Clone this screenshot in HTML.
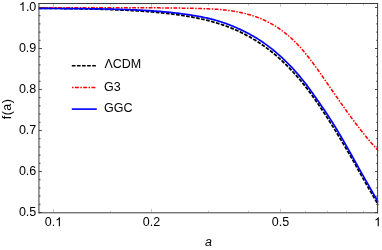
<!DOCTYPE html>
<html><head><meta charset="utf-8"><title>f(a)</title>
<style>
html,body{margin:0;padding:0;background:#fff;}
body{width:382px;height:250px;overflow:hidden;}
svg{display:block;will-change:transform;transform:translateZ(0);}
text{font-family:"Liberation Sans",sans-serif;font-size:12.5px;fill:#000;}
</style></head><body>
<svg width="382" height="250" viewBox="0 0 382 250">
<rect x="0" y="0" width="382" height="250" fill="#fff"/>
<clipPath id="c"><rect x="38.5" y="3" width="339.9" height="210"/></clipPath>
<g clip-path="url(#c)" fill="none" stroke-linejoin="round">
<path d="M38.50,8.26 L39.50,8.27 L40.50,8.28 L41.50,8.29 L42.50,8.29 L43.50,8.30 L44.50,8.31 L45.50,8.32 L46.50,8.33 L47.50,8.34 L48.50,8.35 L49.50,8.36 L50.50,8.37 L51.50,8.38 L52.50,8.39 L53.50,8.40 L54.50,8.41 L55.50,8.42 L56.50,8.43 L57.50,8.44 L58.50,8.45 L59.50,8.47 L60.50,8.48 L61.50,8.49 L62.50,8.50 L63.50,8.52 L64.50,8.53 L65.50,8.54 L66.50,8.56 L67.50,8.57 L68.50,8.59 L69.50,8.60 L70.50,8.62 L71.50,8.63 L72.50,8.65 L73.50,8.66 L74.50,8.68 L75.50,8.70 L76.50,8.71 L77.50,8.73 L78.50,8.75 L79.50,8.77 L80.50,8.79 L81.50,8.80 L82.50,8.82 L83.50,8.84 L84.50,8.86 L85.50,8.88 L86.50,8.91 L87.50,8.93 L88.50,8.95 L89.50,8.97 L90.50,9.00 L91.50,9.02 L92.50,9.04 L93.50,9.07 L94.50,9.09 L95.50,9.12 L96.50,9.14 L97.50,9.17 L98.50,9.20 L99.50,9.23 L100.50,9.25 L101.50,9.28 L102.50,9.31 L103.50,9.34 L104.50,9.37 L105.50,9.41 L106.50,9.44 L107.50,9.47 L108.50,9.50 L109.50,9.54 L110.50,9.57 L111.50,9.61 L112.50,9.65 L113.50,9.68 L114.50,9.72 L115.50,9.76 L116.50,9.80 L117.50,9.84 L118.50,9.88 L119.50,9.93 L120.50,9.97 L121.50,10.01 L122.50,10.06 L123.50,10.10 L124.50,10.15 L125.50,10.20 L126.50,10.25 L127.50,10.30 L128.50,10.35 L129.50,10.40 L130.50,10.46 L131.50,10.51 L132.50,10.57 L133.50,10.62 L134.50,10.68 L135.50,10.74 L136.50,10.80 L137.50,10.86 L138.50,10.93 L139.50,10.99 L140.50,11.06 L141.50,11.12 L142.50,11.19 L143.50,11.26 L144.50,11.33 L145.50,11.41 L146.50,11.48 L147.50,11.56 L148.50,11.63 L149.50,11.71 L150.50,11.80 L151.50,11.88 L152.50,11.96 L153.50,12.05 L154.50,12.14 L155.50,12.23 L156.50,12.32 L157.50,12.41 L158.50,12.51 L159.50,12.61 L160.50,12.70 L161.50,12.81 L162.50,12.91 L163.50,13.02 L164.50,13.12 L165.50,13.24 L166.50,13.35 L167.50,13.46 L168.50,13.58 L169.50,13.70 L170.50,13.82 L171.50,13.95 L172.50,14.08 L173.50,14.21 L174.50,14.34 L175.50,14.47 L176.50,14.61 L177.50,14.75 L178.50,14.90 L179.50,15.04 L180.50,15.19 L181.50,15.34 L182.50,15.49 L183.50,15.64 L184.50,15.80 L185.50,15.95 L186.50,16.12 L187.50,16.28 L188.50,16.45 L189.50,16.63 L190.50,16.80 L191.50,16.98 L192.50,17.17 L193.50,17.36 L194.50,17.55 L195.50,17.74 L196.50,17.94 L197.50,18.15 L198.50,18.36 L199.50,18.57 L200.50,18.79 L201.50,19.01 L202.50,19.24 L203.50,19.47 L204.50,19.70 L205.50,19.94 L206.50,20.19 L207.50,20.44 L208.50,20.69 L209.50,20.95 L210.50,21.22 L211.50,21.49 L212.50,21.77 L213.50,22.05 L214.50,22.33 L215.50,22.63 L216.50,22.93 L217.50,23.23 L218.50,23.54 L219.50,23.86 L220.50,24.18 L221.50,24.51 L222.50,24.85 L223.50,25.19 L224.50,25.54 L225.50,25.89 L226.50,26.26 L227.50,26.62 L228.50,27.00 L229.50,27.38 L230.50,27.78 L231.50,28.17 L232.50,28.58 L233.50,28.99 L234.50,29.41 L235.50,29.84 L236.50,30.28 L237.50,30.72 L238.50,31.18 L239.50,31.64 L240.50,32.11 L241.50,32.60 L242.50,33.09 L243.50,33.59 L244.50,34.11 L245.50,34.63 L246.50,35.16 L247.50,35.69 L248.50,36.24 L249.50,36.80 L250.50,37.37 L251.50,37.95 L252.50,38.53 L253.50,39.13 L254.50,39.74 L255.50,40.35 L256.50,40.98 L257.50,41.62 L258.50,42.27 L259.50,42.93 L260.50,43.60 L261.50,44.28 L262.50,44.97 L263.50,45.68 L264.50,46.39 L265.50,47.12 L266.50,47.86 L267.50,48.61 L268.50,49.37 L269.50,50.14 L270.50,50.93 L271.50,51.72 L272.50,52.53 L273.50,53.36 L274.50,54.19 L275.50,55.04 L276.50,55.90 L277.50,56.77 L278.50,57.65 L279.50,58.55 L280.50,59.46 L281.50,60.38 L282.50,61.32 L283.50,62.26 L284.50,63.23 L285.50,64.20 L286.50,65.19 L287.50,66.19 L288.50,67.21 L289.50,68.23 L290.50,69.28 L291.50,70.33 L292.50,71.40 L293.50,72.48 L294.50,73.58 L295.50,74.69 L296.50,75.81 L297.50,76.95 L298.50,78.10 L299.50,79.26 L300.50,80.44 L301.50,81.63 L302.50,82.85 L303.50,84.08 L304.50,85.34 L305.50,86.61 L306.50,87.90 L307.50,89.20 L308.50,90.52 L309.50,91.86 L310.50,93.22 L311.50,94.59 L312.50,95.97 L313.50,97.37 L314.50,98.78 L315.50,100.20 L316.50,101.64 L317.50,103.08 L318.50,104.54 L319.50,106.00 L320.50,107.48 L321.50,108.96 L322.50,110.46 L323.50,111.97 L324.50,113.50 L325.50,115.03 L326.50,116.57 L327.50,118.13 L328.50,119.69 L329.50,121.27 L330.50,122.85 L331.50,124.45 L332.50,126.05 L333.50,127.66 L334.50,129.27 L335.50,130.90 L336.50,132.53 L337.50,134.17 L338.50,135.81 L339.50,137.46 L340.50,139.12 L341.50,140.79 L342.50,142.46 L343.50,144.14 L344.50,145.83 L345.50,147.53 L346.50,149.23 L347.50,150.94 L348.50,152.66 L349.50,154.38 L350.50,156.12 L351.50,157.86 L352.50,159.62 L353.50,161.38 L354.50,163.15 L355.50,164.93 L356.50,166.71 L357.50,168.49 L358.50,170.28 L359.50,172.07 L360.50,173.85 L361.50,175.63 L362.50,177.41 L363.50,179.18 L364.50,180.94 L365.50,182.70 L366.50,184.45 L367.50,186.20 L368.50,187.94 L369.50,189.69 L370.50,191.42 L371.50,193.16 L372.50,194.89 L373.50,196.62 L374.50,198.34 L375.50,200.05 L376.50,201.76 L377.50,203.46 L378.40,204.99" stroke="#000" stroke-width="1.75" stroke-dasharray="3.7 1.4"/>
<path d="M38.50,7.75 L39.50,7.75 L40.50,7.75 L41.50,7.75 L42.50,7.75 L43.50,7.75 L44.50,7.75 L45.50,7.75 L46.50,7.75 L47.50,7.75 L48.50,7.75 L49.50,7.75 L50.50,7.75 L51.50,7.75 L52.50,7.75 L53.50,7.75 L54.50,7.75 L55.50,7.75 L56.50,7.75 L57.50,7.75 L58.50,7.75 L59.50,7.75 L60.50,7.75 L61.50,7.75 L62.50,7.75 L63.50,7.75 L64.50,7.75 L65.50,7.75 L66.50,7.75 L67.50,7.75 L68.50,7.75 L69.50,7.75 L70.50,7.75 L71.50,7.75 L72.50,7.75 L73.50,7.75 L74.50,7.75 L75.50,7.75 L76.50,7.75 L77.50,7.75 L78.50,7.75 L79.50,7.75 L80.50,7.75 L81.50,7.75 L82.50,7.75 L83.50,7.75 L84.50,7.75 L85.50,7.75 L86.50,7.75 L87.50,7.75 L88.50,7.75 L89.50,7.75 L90.50,7.75 L91.50,7.75 L92.50,7.75 L93.50,7.75 L94.50,7.75 L95.50,7.75 L96.50,7.75 L97.50,7.75 L98.50,7.75 L99.50,7.75 L100.50,7.75 L101.50,7.75 L102.50,7.75 L103.50,7.75 L104.50,7.75 L105.50,7.75 L106.50,7.75 L107.50,7.75 L108.50,7.75 L109.50,7.75 L110.50,7.76 L111.50,7.76 L112.50,7.76 L113.50,7.76 L114.50,7.76 L115.50,7.76 L116.50,7.76 L117.50,7.76 L118.50,7.76 L119.50,7.76 L120.50,7.76 L121.50,7.76 L122.50,7.77 L123.50,7.77 L124.50,7.77 L125.50,7.77 L126.50,7.77 L127.50,7.77 L128.50,7.77 L129.50,7.77 L130.50,7.78 L131.50,7.78 L132.50,7.78 L133.50,7.78 L134.50,7.78 L135.50,7.79 L136.50,7.79 L137.50,7.79 L138.50,7.79 L139.50,7.79 L140.50,7.80 L141.50,7.80 L142.50,7.80 L143.50,7.80 L144.50,7.81 L145.50,7.81 L146.50,7.81 L147.50,7.82 L148.50,7.82 L149.50,7.82 L150.50,7.83 L151.50,7.83 L152.50,7.83 L153.50,7.84 L154.50,7.84 L155.50,7.85 L156.50,7.85 L157.50,7.86 L158.50,7.86 L159.50,7.87 L160.50,7.88 L161.50,7.88 L162.50,7.89 L163.50,7.90 L164.50,7.91 L165.50,7.91 L166.50,7.92 L167.50,7.93 L168.50,7.94 L169.50,7.95 L170.50,7.96 L171.50,7.97 L172.50,7.99 L173.50,8.00 L174.50,8.01 L175.50,8.02 L176.50,8.04 L177.50,8.05 L178.50,8.07 L179.50,8.08 L180.50,8.10 L181.50,8.11 L182.50,8.13 L183.50,8.15 L184.50,8.17 L185.50,8.19 L186.50,8.21 L187.50,8.23 L188.50,8.25 L189.50,8.27 L190.50,8.29 L191.50,8.31 L192.50,8.34 L193.50,8.36 L194.50,8.39 L195.50,8.42 L196.50,8.44 L197.50,8.47 L198.50,8.50 L199.50,8.53 L200.50,8.56 L201.50,8.59 L202.50,8.62 L203.50,8.66 L204.50,8.69 L205.50,8.73 L206.50,8.77 L207.50,8.81 L208.50,8.85 L209.50,8.90 L210.50,8.95 L211.50,9.00 L212.50,9.05 L213.50,9.11 L214.50,9.17 L215.50,9.23 L216.50,9.30 L217.50,9.37 L218.50,9.45 L219.50,9.53 L220.50,9.61 L221.50,9.70 L222.50,9.79 L223.50,9.89 L224.50,9.99 L225.50,10.10 L226.50,10.21 L227.50,10.33 L228.50,10.46 L229.50,10.59 L230.50,10.72 L231.50,10.87 L232.50,11.02 L233.50,11.17 L234.50,11.34 L235.50,11.51 L236.50,11.68 L237.50,11.87 L238.50,12.06 L239.50,12.26 L240.50,12.47 L241.50,12.68 L242.50,12.91 L243.50,13.14 L244.50,13.38 L245.50,13.63 L246.50,13.89 L247.50,14.16 L248.50,14.44 L249.50,14.72 L250.50,15.02 L251.50,15.33 L252.50,15.64 L253.50,15.97 L254.50,16.31 L255.50,16.66 L256.50,17.01 L257.50,17.38 L258.50,17.77 L259.50,18.16 L260.50,18.56 L261.50,18.98 L262.50,19.41 L263.50,19.85 L264.50,20.30 L265.50,20.77 L266.50,21.25 L267.50,21.74 L268.50,22.25 L269.50,22.77 L270.50,23.31 L271.50,23.86 L272.50,24.43 L273.50,25.01 L274.50,25.61 L275.50,26.22 L276.50,26.85 L277.50,27.50 L278.50,28.16 L279.50,28.84 L280.50,29.54 L281.50,30.26 L282.50,30.99 L283.50,31.75 L284.50,32.52 L285.50,33.31 L286.50,34.11 L287.50,34.94 L288.50,35.79 L289.50,36.66 L290.50,37.55 L291.50,38.46 L292.50,39.38 L293.50,40.34 L294.50,41.31 L295.50,42.30 L296.50,43.32 L297.50,44.35 L298.50,45.41 L299.50,46.50 L300.50,47.60 L301.50,48.73 L302.50,49.89 L303.50,51.06 L304.50,52.26 L305.50,53.48 L306.50,54.72 L307.50,55.98 L308.50,57.26 L309.50,58.55 L310.50,59.86 L311.50,61.19 L312.50,62.53 L313.50,63.88 L314.50,65.25 L315.50,66.62 L316.50,68.01 L317.50,69.41 L318.50,70.81 L319.50,72.23 L320.50,73.64 L321.50,75.07 L322.50,76.50 L323.50,77.93 L324.50,79.37 L325.50,80.81 L326.50,82.26 L327.50,83.70 L328.50,85.15 L329.50,86.60 L330.50,88.05 L331.50,89.50 L332.50,90.95 L333.50,92.39 L334.50,93.84 L335.50,95.29 L336.50,96.73 L337.50,98.17 L338.50,99.61 L339.50,101.04 L340.50,102.47 L341.50,103.89 L342.50,105.31 L343.50,106.73 L344.50,108.14 L345.50,109.54 L346.50,110.94 L347.50,112.33 L348.50,113.71 L349.50,115.09 L350.50,116.46 L351.50,117.83 L352.50,119.18 L353.50,120.53 L354.50,121.87 L355.50,123.20 L356.50,124.53 L357.50,125.84 L358.50,127.15 L359.50,128.44 L360.50,129.73 L361.50,131.00 L362.50,132.27 L363.50,133.52 L364.50,134.77 L365.50,136.00 L366.50,137.22 L367.50,138.43 L368.50,139.62 L369.50,140.81 L370.50,141.98 L371.50,143.14 L372.50,144.28 L373.50,145.42 L374.50,146.54 L375.50,147.64 L376.50,148.73 L377.50,149.80 L378.40,150.76" stroke="#f00" stroke-width="1.5" stroke-dasharray="1.5 1.4 3.9 1.45"/>
<path d="M38.50,8.41 L39.50,8.42 L40.50,8.42 L41.50,8.43 L42.50,8.43 L43.50,8.44 L44.50,8.44 L45.50,8.45 L46.50,8.45 L47.50,8.46 L48.50,8.46 L49.50,8.47 L50.50,8.47 L51.50,8.48 L52.50,8.48 L53.50,8.49 L54.50,8.49 L55.50,8.50 L56.50,8.50 L57.50,8.51 L58.50,8.51 L59.50,8.52 L60.50,8.52 L61.50,8.53 L62.50,8.54 L63.50,8.54 L64.50,8.55 L65.50,8.55 L66.50,8.56 L67.50,8.57 L68.50,8.57 L69.50,8.58 L70.50,8.59 L71.50,8.60 L72.50,8.60 L73.50,8.61 L74.50,8.62 L75.50,8.63 L76.50,8.64 L77.50,8.64 L78.50,8.65 L79.50,8.66 L80.50,8.67 L81.50,8.68 L82.50,8.69 L83.50,8.70 L84.50,8.72 L85.50,8.73 L86.50,8.74 L87.50,8.75 L88.50,8.76 L89.50,8.78 L90.50,8.79 L91.50,8.80 L92.50,8.82 L93.50,8.83 L94.50,8.85 L95.50,8.86 L96.50,8.88 L97.50,8.90 L98.50,8.91 L99.50,8.93 L100.50,8.95 L101.50,8.97 L102.50,8.99 L103.50,9.01 L104.50,9.02 L105.50,9.04 L106.50,9.06 L107.50,9.08 L108.50,9.10 L109.50,9.13 L110.50,9.15 L111.50,9.17 L112.50,9.19 L113.50,9.21 L114.50,9.24 L115.50,9.26 L116.50,9.29 L117.50,9.31 L118.50,9.34 L119.50,9.36 L120.50,9.39 L121.50,9.42 L122.50,9.45 L123.50,9.48 L124.50,9.51 L125.50,9.54 L126.50,9.57 L127.50,9.61 L128.50,9.64 L129.50,9.68 L130.50,9.71 L131.50,9.75 L132.50,9.79 L133.50,9.83 L134.50,9.87 L135.50,9.91 L136.50,9.96 L137.50,10.00 L138.50,10.05 L139.50,10.10 L140.50,10.15 L141.50,10.20 L142.50,10.25 L143.50,10.30 L144.50,10.36 L145.50,10.42 L146.50,10.48 L147.50,10.54 L148.50,10.60 L149.50,10.66 L150.50,10.72 L151.50,10.79 L152.50,10.86 L153.50,10.93 L154.50,11.00 L155.50,11.07 L156.50,11.15 L157.50,11.23 L158.50,11.30 L159.50,11.39 L160.50,11.47 L161.50,11.55 L162.50,11.64 L163.50,11.73 L164.50,11.82 L165.50,11.91 L166.50,12.01 L167.50,12.10 L168.50,12.20 L169.50,12.31 L170.50,12.41 L171.50,12.52 L172.50,12.63 L173.50,12.74 L174.50,12.85 L175.50,12.97 L176.50,13.09 L177.50,13.21 L178.50,13.33 L179.50,13.46 L180.50,13.59 L181.50,13.72 L182.50,13.85 L183.50,13.98 L184.50,14.11 L185.50,14.25 L186.50,14.39 L187.50,14.54 L188.50,14.69 L189.50,14.84 L190.50,14.99 L191.50,15.15 L192.50,15.31 L193.50,15.47 L194.50,15.64 L195.50,15.80 L196.50,15.98 L197.50,16.15 L198.50,16.33 L199.50,16.51 L200.50,16.70 L201.50,16.89 L202.50,17.09 L203.50,17.30 L204.50,17.50 L205.50,17.72 L206.50,17.94 L207.50,18.17 L208.50,18.40 L209.50,18.64 L210.50,18.89 L211.50,19.14 L212.50,19.39 L213.50,19.65 L214.50,19.92 L215.50,20.20 L216.50,20.48 L217.50,20.77 L218.50,21.06 L219.50,21.37 L220.50,21.69 L221.50,22.01 L222.50,22.35 L223.50,22.69 L224.50,23.04 L225.50,23.39 L226.50,23.76 L227.50,24.12 L228.50,24.50 L229.50,24.88 L230.50,25.28 L231.50,25.67 L232.50,26.08 L233.50,26.49 L234.50,26.91 L235.50,27.34 L236.50,27.78 L237.50,28.22 L238.50,28.68 L239.50,29.14 L240.50,29.61 L241.50,30.09 L242.50,30.57 L243.50,31.06 L244.50,31.55 L245.50,32.04 L246.50,32.54 L247.50,33.05 L248.50,33.57 L249.50,34.09 L250.50,34.63 L251.50,35.18 L252.50,35.73 L253.50,36.30 L254.50,36.88 L255.50,37.48 L256.50,38.09 L257.50,38.71 L258.50,39.35 L259.50,40.00 L260.50,40.66 L261.50,41.33 L262.50,42.01 L263.50,42.70 L264.50,43.40 L265.50,44.12 L266.50,44.85 L267.50,45.58 L268.50,46.34 L269.50,47.10 L270.50,47.87 L271.50,48.66 L272.50,49.46 L273.50,50.27 L274.50,51.10 L275.50,51.93 L276.50,52.78 L277.50,53.65 L278.50,54.52 L279.50,55.41 L280.50,56.32 L281.50,57.23 L282.50,58.16 L283.50,59.10 L284.50,60.06 L285.50,61.03 L286.50,62.01 L287.50,63.01 L288.50,64.02 L289.50,65.05 L290.50,66.08 L291.50,67.14 L292.50,68.20 L293.50,69.28 L294.50,70.38 L295.50,71.49 L296.50,72.61 L297.50,73.75 L298.50,74.91 L299.50,76.08 L300.50,77.27 L301.50,78.49 L302.50,79.72 L303.50,80.98 L304.50,82.25 L305.50,83.55 L306.50,84.86 L307.50,86.19 L308.50,87.53 L309.50,88.89 L310.50,90.27 L311.50,91.65 L312.50,93.05 L313.50,94.46 L314.50,95.88 L315.50,97.30 L316.50,98.73 L317.50,100.16 L318.50,101.60 L319.50,103.03 L320.50,104.46 L321.50,105.91 L322.50,107.36 L323.50,108.82 L324.50,110.30 L325.50,111.78 L326.50,113.28 L327.50,114.79 L328.50,116.31 L329.50,117.85 L330.50,119.40 L331.50,120.97 L332.50,122.56 L333.50,124.16 L334.50,125.78 L335.50,127.41 L336.50,129.06 L337.50,130.72 L338.50,132.39 L339.50,134.07 L340.50,135.77 L341.50,137.47 L342.50,139.19 L343.50,140.91 L344.50,142.64 L345.50,144.39 L346.50,146.14 L347.50,147.89 L348.50,149.66 L349.50,151.43 L350.50,153.21 L351.50,154.99 L352.50,156.78 L353.50,158.57 L354.50,160.37 L355.50,162.17 L356.50,163.97 L357.50,165.76 L358.50,167.56 L359.50,169.34 L360.50,171.12 L361.50,172.89 L362.50,174.66 L363.50,176.42 L364.50,178.18 L365.50,179.93 L366.50,181.68 L367.50,183.43 L368.50,185.18 L369.50,186.92 L370.50,188.65 L371.50,190.39 L372.50,192.12 L373.50,193.84 L374.50,195.56 L375.50,197.28 L376.50,198.99 L377.50,200.70 L378.40,202.23" stroke="#00f" stroke-width="1.7"/>
</g>
<line x1="53.50" y1="212.30" x2="53.50" y2="208.80" stroke="#c6c6c6" stroke-width="1"/>
<line x1="53.50" y1="4.00" x2="53.50" y2="6.80" stroke="#c6c6c6" stroke-width="1"/>
<line x1="110.50" y1="212.30" x2="110.50" y2="210.70" stroke="#c6c6c6" stroke-width="1"/>
<line x1="110.50" y1="4.00" x2="110.50" y2="5.50" stroke="#c6c6c6" stroke-width="1"/>
<line x1="151.50" y1="212.30" x2="151.50" y2="208.80" stroke="#c6c6c6" stroke-width="1"/>
<line x1="151.50" y1="4.00" x2="151.50" y2="6.80" stroke="#c6c6c6" stroke-width="1"/>
<line x1="208.50" y1="212.30" x2="208.50" y2="210.70" stroke="#c6c6c6" stroke-width="1"/>
<line x1="208.50" y1="4.00" x2="208.50" y2="5.50" stroke="#c6c6c6" stroke-width="1"/>
<line x1="248.50" y1="212.30" x2="248.50" y2="210.70" stroke="#c6c6c6" stroke-width="1"/>
<line x1="248.50" y1="4.00" x2="248.50" y2="5.50" stroke="#c6c6c6" stroke-width="1"/>
<line x1="280.50" y1="212.30" x2="280.50" y2="208.80" stroke="#c6c6c6" stroke-width="1"/>
<line x1="280.50" y1="4.00" x2="280.50" y2="6.80" stroke="#c6c6c6" stroke-width="1"/>
<line x1="305.50" y1="212.30" x2="305.50" y2="210.70" stroke="#c6c6c6" stroke-width="1"/>
<line x1="305.50" y1="4.00" x2="305.50" y2="5.50" stroke="#c6c6c6" stroke-width="1"/>
<line x1="327.50" y1="212.30" x2="327.50" y2="210.70" stroke="#c6c6c6" stroke-width="1"/>
<line x1="327.50" y1="4.00" x2="327.50" y2="5.50" stroke="#c6c6c6" stroke-width="1"/>
<line x1="346.50" y1="212.30" x2="346.50" y2="210.70" stroke="#c6c6c6" stroke-width="1"/>
<line x1="346.50" y1="4.00" x2="346.50" y2="5.50" stroke="#c6c6c6" stroke-width="1"/>
<line x1="363.50" y1="212.30" x2="363.50" y2="210.70" stroke="#c6c6c6" stroke-width="1"/>
<line x1="363.50" y1="4.00" x2="363.50" y2="5.50" stroke="#c6c6c6" stroke-width="1"/>
<line x1="377.50" y1="212.30" x2="377.50" y2="208.80" stroke="#c6c6c6" stroke-width="1"/>
<line x1="377.50" y1="4.00" x2="377.50" y2="6.80" stroke="#c6c6c6" stroke-width="1"/>
<g stroke="#3c3c3c" stroke-width="1" stroke-linecap="square">
<line x1="38.95" y1="3.5" x2="377.6" y2="3.5"/>
<line x1="38.95" y1="212.8" x2="377.6" y2="212.8"/>
<line x1="38.95" y1="3.5" x2="38.95" y2="212.8"/>
<line x1="377.6" y1="3.5" x2="377.6" y2="212.8"/>
</g>
<line x1="38.95" y1="212.50" x2="41.85" y2="212.50" stroke="#333" stroke-width="0.9"/>
<line x1="377.60" y1="212.50" x2="375.00" y2="212.50" stroke="#333" stroke-width="0.9"/>
<line x1="38.95" y1="204.30" x2="40.55" y2="204.30" stroke="#333" stroke-width="0.9"/>
<line x1="377.60" y1="204.30" x2="376.20" y2="204.30" stroke="#333" stroke-width="0.9"/>
<line x1="38.95" y1="196.10" x2="40.55" y2="196.10" stroke="#333" stroke-width="0.9"/>
<line x1="377.60" y1="196.10" x2="376.20" y2="196.10" stroke="#333" stroke-width="0.9"/>
<line x1="38.95" y1="187.90" x2="40.55" y2="187.90" stroke="#333" stroke-width="0.9"/>
<line x1="377.60" y1="187.90" x2="376.20" y2="187.90" stroke="#333" stroke-width="0.9"/>
<line x1="38.95" y1="179.70" x2="40.55" y2="179.70" stroke="#333" stroke-width="0.9"/>
<line x1="377.60" y1="179.70" x2="376.20" y2="179.70" stroke="#333" stroke-width="0.9"/>
<line x1="38.95" y1="171.50" x2="41.85" y2="171.50" stroke="#333" stroke-width="0.9"/>
<line x1="377.60" y1="171.50" x2="375.00" y2="171.50" stroke="#333" stroke-width="0.9"/>
<line x1="38.95" y1="163.30" x2="40.55" y2="163.30" stroke="#333" stroke-width="0.9"/>
<line x1="377.60" y1="163.30" x2="376.20" y2="163.30" stroke="#333" stroke-width="0.9"/>
<line x1="38.95" y1="155.10" x2="40.55" y2="155.10" stroke="#333" stroke-width="0.9"/>
<line x1="377.60" y1="155.10" x2="376.20" y2="155.10" stroke="#333" stroke-width="0.9"/>
<line x1="38.95" y1="146.90" x2="40.55" y2="146.90" stroke="#333" stroke-width="0.9"/>
<line x1="377.60" y1="146.90" x2="376.20" y2="146.90" stroke="#333" stroke-width="0.9"/>
<line x1="38.95" y1="138.70" x2="40.55" y2="138.70" stroke="#333" stroke-width="0.9"/>
<line x1="377.60" y1="138.70" x2="376.20" y2="138.70" stroke="#333" stroke-width="0.9"/>
<line x1="38.95" y1="130.50" x2="41.85" y2="130.50" stroke="#333" stroke-width="0.9"/>
<line x1="377.60" y1="130.50" x2="375.00" y2="130.50" stroke="#333" stroke-width="0.9"/>
<line x1="38.95" y1="122.30" x2="40.55" y2="122.30" stroke="#333" stroke-width="0.9"/>
<line x1="377.60" y1="122.30" x2="376.20" y2="122.30" stroke="#333" stroke-width="0.9"/>
<line x1="38.95" y1="114.10" x2="40.55" y2="114.10" stroke="#333" stroke-width="0.9"/>
<line x1="377.60" y1="114.10" x2="376.20" y2="114.10" stroke="#333" stroke-width="0.9"/>
<line x1="38.95" y1="105.90" x2="40.55" y2="105.90" stroke="#333" stroke-width="0.9"/>
<line x1="377.60" y1="105.90" x2="376.20" y2="105.90" stroke="#333" stroke-width="0.9"/>
<line x1="38.95" y1="97.70" x2="40.55" y2="97.70" stroke="#333" stroke-width="0.9"/>
<line x1="377.60" y1="97.70" x2="376.20" y2="97.70" stroke="#333" stroke-width="0.9"/>
<line x1="38.95" y1="89.50" x2="41.85" y2="89.50" stroke="#333" stroke-width="0.9"/>
<line x1="377.60" y1="89.50" x2="375.00" y2="89.50" stroke="#333" stroke-width="0.9"/>
<line x1="38.95" y1="81.30" x2="40.55" y2="81.30" stroke="#333" stroke-width="0.9"/>
<line x1="377.60" y1="81.30" x2="376.20" y2="81.30" stroke="#333" stroke-width="0.9"/>
<line x1="38.95" y1="73.10" x2="40.55" y2="73.10" stroke="#333" stroke-width="0.9"/>
<line x1="377.60" y1="73.10" x2="376.20" y2="73.10" stroke="#333" stroke-width="0.9"/>
<line x1="38.95" y1="64.90" x2="40.55" y2="64.90" stroke="#333" stroke-width="0.9"/>
<line x1="377.60" y1="64.90" x2="376.20" y2="64.90" stroke="#333" stroke-width="0.9"/>
<line x1="38.95" y1="56.70" x2="40.55" y2="56.70" stroke="#333" stroke-width="0.9"/>
<line x1="377.60" y1="56.70" x2="376.20" y2="56.70" stroke="#333" stroke-width="0.9"/>
<line x1="38.95" y1="48.50" x2="41.85" y2="48.50" stroke="#333" stroke-width="0.9"/>
<line x1="377.60" y1="48.50" x2="375.00" y2="48.50" stroke="#333" stroke-width="0.9"/>
<line x1="38.95" y1="40.30" x2="40.55" y2="40.30" stroke="#333" stroke-width="0.9"/>
<line x1="377.60" y1="40.30" x2="376.20" y2="40.30" stroke="#333" stroke-width="0.9"/>
<line x1="38.95" y1="32.10" x2="40.55" y2="32.10" stroke="#333" stroke-width="0.9"/>
<line x1="377.60" y1="32.10" x2="376.20" y2="32.10" stroke="#333" stroke-width="0.9"/>
<line x1="38.95" y1="23.90" x2="40.55" y2="23.90" stroke="#333" stroke-width="0.9"/>
<line x1="377.60" y1="23.90" x2="376.20" y2="23.90" stroke="#333" stroke-width="0.9"/>
<line x1="38.95" y1="15.70" x2="40.55" y2="15.70" stroke="#333" stroke-width="0.9"/>
<line x1="377.60" y1="15.70" x2="376.20" y2="15.70" stroke="#333" stroke-width="0.9"/>
<line x1="38.95" y1="7.50" x2="41.85" y2="7.50" stroke="#333" stroke-width="0.9"/>
<line x1="377.60" y1="7.50" x2="375.00" y2="7.50" stroke="#333" stroke-width="0.9"/>
<text x="18.92" y="216.10">0.5</text>
<text x="18.92" y="175.10">0.6</text>
<text x="18.92" y="134.10">0.7</text>
<text x="18.92" y="93.10">0.8</text>
<text x="18.92" y="52.10">0.9</text>
<path transform="translate(18.92,11.10) scale(0.006104,-0.006104)" d="M763 0H583V1147Q518 1085 412.5 1023Q307 961 223 930V1104Q374 1175 487 1276Q600 1377 647 1472H763Z" fill="#000"/>
<text x="25.88" y="11.10">.0</text>
<text x="44.81" y="226.30">0.</text>
<path transform="translate(55.24,226.30) scale(0.006104,-0.006104)" d="M763 0H583V1147Q518 1085 412.5 1023Q307 961 223 930V1104Q374 1175 487 1276Q600 1377 647 1472H763Z" fill="#000"/>
<text x="142.84" y="226.30">0.2</text>
<text x="271.78" y="226.30">0.5</text>
<path transform="translate(374.14,226.30) scale(0.006104,-0.006104)" d="M763 0H583V1147Q518 1085 412.5 1023Q307 961 223 930V1104Q374 1175 487 1276Q600 1377 647 1472H763Z" fill="#000"/>
<text x="208.5" y="245.5" text-anchor="middle" font-style="italic">a</text>
<text transform="translate(11.2,108.9) rotate(-90)" text-anchor="middle" letter-spacing="0.55">f(a)</text>
<g fill="none">
<line x1="71.8" y1="65.8" x2="96" y2="65.8" stroke="#000" stroke-width="1.6" stroke-dasharray="3.7 1.4"/>
<line x1="72.05" y1="87.4" x2="95.4" y2="87.4" stroke="#f00" stroke-width="1.5" stroke-dasharray="1.5 1.4 3.9 1.45"/>
<line x1="71.8" y1="109.1" x2="96.8" y2="109.1" stroke="#00f" stroke-width="1.65"/>
</g>
<text x="104.4" y="68.45">ΛCDM</text>
<text x="104" y="90.6">G3</text>
<text x="104" y="111.7">GGC</text>
</svg>
</body></html>
